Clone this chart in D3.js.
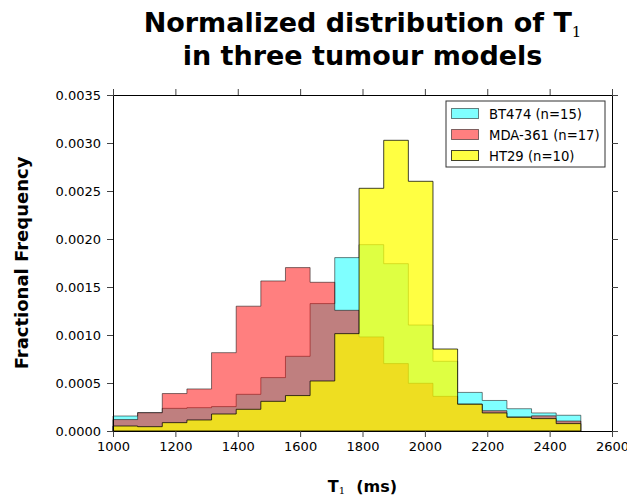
<!DOCTYPE html>
<html>
<head>
<meta charset="utf-8">
<script src="https://cdnjs.cloudflare.com/ajax/libs/d3/7.8.5/d3.min.js"></script>
<style>
  body { margin: 0; background: #fff; }
  text { font-family: "DejaVu Sans", sans-serif; }
</style>
</head>
<body>
<div id="chart"></div>
<script>
(() => {

  // bin edges (ms), 19 bins between 1000 and 2500
  let binEdges = [1000, 1079, 1158, 1237, 1316, 1395, 1474, 1553, 1632, 1711,
                  1789, 1868, 1947, 2026, 2105, 2184, 2263, 2342, 2421, 2500]

  let bt474 = [0.000156, 0.000191, 0.000236, 0.000243, 0.000254, 0.000382, 0.000556,
               0.000778, 0.001327, 0.001806, 0.001941, 0.001743, 0.001104, 0.000726,
               0.000402, 0.000318, 0.000232, 0.000188, 0.000164]
  let mda361 = [0.000119, 0.000191, 0.000390, 0.000438, 0.000816, 0.001300, 0.001563,
                0.001702, 0.001549, 0.001257, 0.000980, 0.000702, 0.000497, 0.000361,
                0.000280, 0.000212, 0.000146, 0.000158, 0.000104]
  let ht29 = [0.000052, 0.000045, 0.000087, 0.000115, 0.000177, 0.000226, 0.000309,
              0.000369, 0.000521, 0.001014, 0.002528, 0.003028, 0.002601, 0.000854,
              0.000279, 0.000188, 0.000143, 0.000129, 0.000077]

  let seriesNames = ["BT474 (n=15)", "MDA-361 (n=17)", "HT29 (n=10)"]
  let seriesColors = ["#00ffff", "#ff0000", "#ffff00"]
  let seriesAlpha = [0.5, 0.5, 0.74]

  let xTicks = [1000, 1200, 1400, 1600, 1800, 2000, 2200, 2400, 2600]
  let yTicks = [0, 0.0005, 0.001, 0.0015, 0.002, 0.0025, 0.003, 0.0035]

  let svg = d3.select("#chart")
  .append("svg")
  .attr("width", 627)
  .attr("height", 497)

  let margin = {top: 95, right: 15, bottom: 66, left: 113}
  let width = 627 - margin.left - margin.right
  let height = 497 - margin.top - margin.bottom

  let x = d3.scaleLinear().domain([1000, 2600]).range([margin.left, margin.left + width])
  let y = d3.scaleLinear().domain([0, 0.0035]).range([margin.top + height, margin.top])

  // histograms as stepfilled polygons
  let stepLine = d3.line().x(p => x(p[0])).y(p => y(p[1]))
  function stepPoints(vals) {
    let pts = [[binEdges[0], 0]]
    vals.forEach((v, i) => {
      pts.push([binEdges[i], v])
      pts.push([binEdges[i + 1], v])
    })
    pts.push([binEdges[binEdges.length - 1], 0])
    return pts
  }

  let data = [bt474, mda361, ht29]
  svg.selectAll(".hist")
  .data(data)
  .enter()
  .append("path")
  .attr("class", "hist")
  .attr("d", d => stepLine(stepPoints(d)) + "Z")
  .attr("fill", (d, i) => seriesColors[i])
  .attr("fill-opacity", (d, i) => seriesAlpha[i])
  .attr("stroke", "#000")
  .attr("stroke-opacity", (d, i) => seriesAlpha[i])
  .attr("stroke-width", 1)

  // axes, ticks outward on all four sides
  let bottom = svg.append("g")
  .attr("transform", "translate(0," + (margin.top + height) + ")")
  .call(d3.axisBottom(x).tickValues(xTicks).tickFormat(d3.format("d")).tickSizeInner(6).tickSizeOuter(0).tickPadding(5))
  let top = svg.append("g")
  .attr("transform", "translate(0," + margin.top + ")")
  .call(d3.axisTop(x).tickValues(xTicks).tickFormat("").tickSizeInner(6).tickSizeOuter(0))
  let left = svg.append("g")
  .attr("transform", "translate(" + margin.left + ",0)")
  .call(d3.axisLeft(y).tickValues(yTicks).tickFormat(d3.format(".4f")).tickSizeInner(6).tickSizeOuter(0).tickPadding(6))
  let right = svg.append("g")
  .attr("transform", "translate(" + (margin.left + width) + ",0)")
  .call(d3.axisRight(y).tickValues(yTicks).tickFormat("").tickSizeInner(6).tickSizeOuter(0))

  ;[bottom, top, left, right].forEach(a => {
    a.select(".domain").attr("stroke", "#000").attr("stroke-width", 1)
    a.selectAll(".tick line").attr("stroke", "#444")
    a.selectAll(".tick text").attr("fill", "#000").style("font-size", "13px").style("font-family", "DejaVu Sans")
  })

  // legend
  let legend = svg.append("g").attr("transform", "translate(446,101)")
  legend.append("rect")
  .attr("width", 159)
  .attr("height", 66)
  .attr("fill", "#fff")
  .attr("stroke", "#333")
  .attr("stroke-width", 1)
  let rows = legend.selectAll(".leg_row")
  .data(seriesNames)
  .enter()
  .append("g")
  .attr("class", "leg_row")
  .attr("transform", (d, i) => "translate(0," + (12.5 + i * 21) + ")")
  rows.append("rect")
  .attr("x", 5.5)
  .attr("y", -5)
  .attr("width", 27)
  .attr("height", 10)
  .attr("fill", (d, i) => seriesColors[i])
  .attr("fill-opacity", (d, i) => seriesAlpha[i])
  .attr("stroke", "#000")
  .attr("stroke-opacity", (d, i) => seriesAlpha[i])
  rows.append("text")
  .attr("x", 43)
  .attr("y", 5)
  .style("font-size", "13.2px")
  .text(d => d)

  // title
  let title = svg.append("text")
  .attr("x", margin.left + width / 2)
  .attr("y", 32)
  .attr("text-anchor", "middle")
  .style("font-size", "27px")
  .style("font-weight", "bold")
  title.append("tspan").text("Normalized distribution of T")
  title.append("tspan")
  .attr("dy", 5)
  .style("font-family", "DejaVu Serif")
  .style("font-weight", "normal")
  .style("font-size", "15px")
  .text("1")
  svg.append("text")
  .attr("x", margin.left + width / 2)
  .attr("y", 65)
  .attr("text-anchor", "middle")
  .style("font-size", "27px")
  .style("font-weight", "bold")
  .text("in three tumour models")

  // axis labels
  let xlab = svg.append("text")
  .attr("x", margin.left + width / 2)
  .attr("y", 492)
  .attr("text-anchor", "middle")
  .style("font-size", "16px")
  .style("font-weight", "bold")
  xlab.append("tspan").text("T")
  xlab.append("tspan")
  .attr("dy", 2)
  .style("font-family", "DejaVu Serif")
  .style("font-weight", "normal")
  .style("font-size", "10px")
  .text("1")
  xlab.append("tspan")
  .attr("dy", -2)
  .text("\u00a0 (ms)")

  svg.append("text")
  .attr("transform", "translate(28," + (margin.top + height / 2) + ") rotate(-90)")
  .attr("text-anchor", "middle")
  .style("font-size", "18px")
  .style("font-weight", "bold")
  .text("Fractional Frequency")

})()
</script>
</body>
</html>
